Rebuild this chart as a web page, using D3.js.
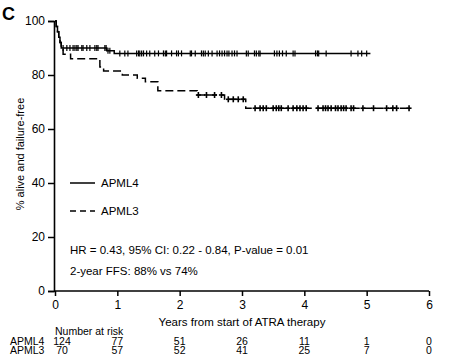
<!DOCTYPE html>
<html>
<head>
<meta charset="utf-8">
<script src="https://cdn.jsdelivr.net/npm/d3@7"></script>
<style>
  body { margin: 0; background: #fff; }
  svg text { font-family: Arial, "Liberation Sans", sans-serif; fill: #000; }
</style>
</head>
<body>
<svg width="463" height="362"></svg>
<script>
// Data
const yTicks = [0, 20, 40, 60, 80, 100];
const xTicks = [0, 1, 2, 3, 4, 5, 6];

// APML4 step curve (years, % alive and failure-free)
const apml4Times = [0, 0.02, 0.04, 0.06, 0.08, 0.1, 0.83, 0.95];
const apml4Surv  = [100, 98, 96, 94, 92, 90, 89, 88];
const apml4End = 5.06;
const apml4Censor = [0.13, 0.19, 0.24, 0.29, 0.32, 0.35, 0.37, 0.43, 0.45, 0.51, 0.56, 0.64, 0.67, 0.69,
  0.80, 0.82, 0.85, 0.88, 1.04, 1.12, 1.17, 1.31, 1.34, 1.36, 1.39, 1.42, 1.47, 1.52, 1.60, 1.66,
  1.74, 1.77, 1.79, 1.87, 1.95, 1.98, 2.03, 2.17, 2.19, 2.25, 2.35, 2.38, 2.41, 2.46, 2.52, 2.60,
  2.64, 2.68, 2.72, 2.76, 2.79, 2.84, 2.88, 2.92, 3.07, 3.10, 3.20, 3.23, 3.27, 3.29, 3.52, 3.56,
  3.60, 3.65, 3.71, 3.82, 3.85, 4.18, 4.21, 4.23, 4.35, 4.75, 4.86, 4.92, 5.00];

// APML3 step curve
const apml3Times = [0, 0.02, 0.04, 0.06, 0.08, 0.1, 0.13, 0.25, 0.72, 0.78, 1.08, 1.32, 1.45, 1.65, 2.28, 2.72, 3.06];
const apml3Surv  = [100, 98, 96, 94, 92, 90, 87.7, 86, 83, 81.5, 80, 78.8, 77.5, 74.2, 72.6, 71, 67.7];
const apml3End = 5.72;
const apml3Censor = [2.30, 2.43, 2.56, 2.67, 2.78, 2.86, 2.94, 3.02, 3.21, 3.29, 3.34, 3.39, 3.50, 3.55,
  3.59, 3.63, 3.74, 3.82, 3.88, 3.93, 3.98, 4.03, 4.22, 4.30, 4.34, 4.38, 4.43, 4.50, 4.54, 4.59,
  4.63, 4.67, 4.75, 4.79, 4.94, 5.11, 5.32, 5.42, 5.48, 5.68];

// Number at risk
const riskTimes = [0, 1, 2, 3, 4, 5, 6];
const riskApml4 = [124, 77, 51, 26, 11, 1, 0];
const riskApml3 = [70, 57, 52, 41, 25, 7, 0];

const svg = d3.select('svg');

const x = d3.scaleLinear().domain([0, 6]).range([55, 429]);
const y = d3.scaleLinear().domain([0, 100]).range([291, 21]);

// panel letter
svg.append('text')
    .attr('x', 2).attr('y', 20)
    .style('font-size', '18px').style('font-weight', 'bold')
    .text('C');

// axes
const yAxis = svg.append('g')
    .attr('transform', 'translate(54,0)')
    .call(d3.axisLeft(y).tickValues(yTicks).tickSize(6).tickPadding(3));
const xAxis = svg.append('g')
    .attr('transform', 'translate(0,291)')
    .call(d3.axisBottom(x).tickValues(xTicks).tickFormat(d3.format('d')).tickSize(5).tickPadding(4));
[yAxis, xAxis].forEach(a => {
  a.select('.domain').attr('stroke', '#000').attr('stroke-width', 1.6);
  a.selectAll('.tick line').attr('stroke', '#000').attr('stroke-width', 1.5);
  a.selectAll('.tick text').style('font-size', '12px').style('font-family', 'Arial, "Liberation Sans", sans-serif');
});
xAxis.select('.domain').attr('d', `M54,0H${x(6)}`);

svg.append('text')
    .attr('transform', 'translate(24,154) rotate(-90)')
    .attr('text-anchor', 'middle')
    .style('font-size', '11px')
    .text('% alive and failure-free');

svg.append('text')
    .attr('x', 242).attr('y', 326)
    .attr('text-anchor', 'middle')
    .style('font-size', '11.5px')
    .text('Years from start of ATRA therapy');

// curves
function stepPoints(times, surv, end) {
  const pts = times.map((t, i) => [t, surv[i]]);
  pts.push([end, surv[surv.length - 1]]);
  return pts;
}
function survAt(times, surv, t) {
  let s = surv[0];
  times.forEach((tt, i) => { if (tt <= t) s = surv[i]; });
  return s;
}

const line = d3.line()
    .x(d => x(d[0]))
    .y(d => y(d[1]))
    .curve(d3.curveStepAfter);

svg.append('path')
    .datum(stepPoints(apml4Times, apml4Surv, apml4End))
    .attr('d', line)
    .attr('fill', 'none').attr('stroke', '#000').attr('stroke-width', 1.5);

svg.append('path')
    .datum(stepPoints(apml3Times, apml3Surv, apml3End))
    .attr('d', line)
    .attr('fill', 'none').attr('stroke', '#000').attr('stroke-width', 1.5)
    .attr('stroke-dasharray', '8,4');

// censor marks
svg.append('g').selectAll('line')
    .data(apml4Censor)
    .join('line')
    .attr('x1', d => x(d)).attr('x2', d => x(d))
    .attr('y1', d => y(survAt(apml4Times, apml4Surv, d)) - 3)
    .attr('y2', d => y(survAt(apml4Times, apml4Surv, d)) + 3)
    .attr('stroke', '#000').attr('stroke-width', 1.2);

svg.append('g').selectAll('line')
    .data(apml3Censor)
    .join('line')
    .attr('x1', d => x(d)).attr('x2', d => x(d))
    .attr('y1', d => y(survAt(apml3Times, apml3Surv, d)) - 3)
    .attr('y2', d => y(survAt(apml3Times, apml3Surv, d)) + 3)
    .attr('stroke', '#000').attr('stroke-width', 1.6);
svg.append('g').selectAll('line')
    .data(apml3Censor)
    .join('line')
    .attr('x1', d => x(d) - 2.5).attr('x2', d => x(d) + 2.5)
    .attr('y1', d => y(survAt(apml3Times, apml3Surv, d)))
    .attr('y2', d => y(survAt(apml3Times, apml3Surv, d)))
    .attr('stroke', '#000').attr('stroke-width', 1.6);

// legend
const legend = [
  { name: 'APML4', dash: null, y: 183 },
  { name: 'APML3', dash: '6,4', y: 211 }
];
legend.forEach(l => {
  svg.append('line')
      .attr('x1', 70).attr('x2', 95).attr('y1', l.y).attr('y2', l.y)
      .attr('stroke', '#000').attr('stroke-width', 1.5)
      .attr('stroke-dasharray', l.dash);
  svg.append('text')
      .attr('x', 101).attr('y', l.y + 4)
      .style('font-size', '11.5px')
      .text(l.name);
});

svg.append('text')
    .attr('x', 70).attr('y', 254)
    .style('font-size', '11.5px')
    .text('HR = 0.43, 95% CI: 0.22 - 0.84, P-value = 0.01');
svg.append('text')
    .attr('x', 70).attr('y', 275)
    .style('font-size', '11.5px')
    .text('2-year FFS: 88% vs 74%');

// number at risk
svg.append('text')
    .attr('x', 55).attr('y', 335)
    .style('font-size', '10.5px')
    .text('Number at risk');
const rows = [
  { name: 'APML4', vals: riskApml4, y: 345 },
  { name: 'APML3', vals: riskApml3, y: 354 }
];
rows.forEach(r => {
  svg.append('text')
      .attr('x', 10).attr('y', r.y)
      .style('font-size', '10.5px')
      .text(r.name);
  svg.append('g').selectAll('text')
      .data(r.vals)
      .join('text')
      .attr('x', (d, i) => x(riskTimes[i]) + (i === 0 ? 7 : 0))
      .attr('y', r.y)
      .attr('text-anchor', 'middle')
      .style('font-size', '10.5px')
      .text(d => d);
});
</script>
</body>
</html>
